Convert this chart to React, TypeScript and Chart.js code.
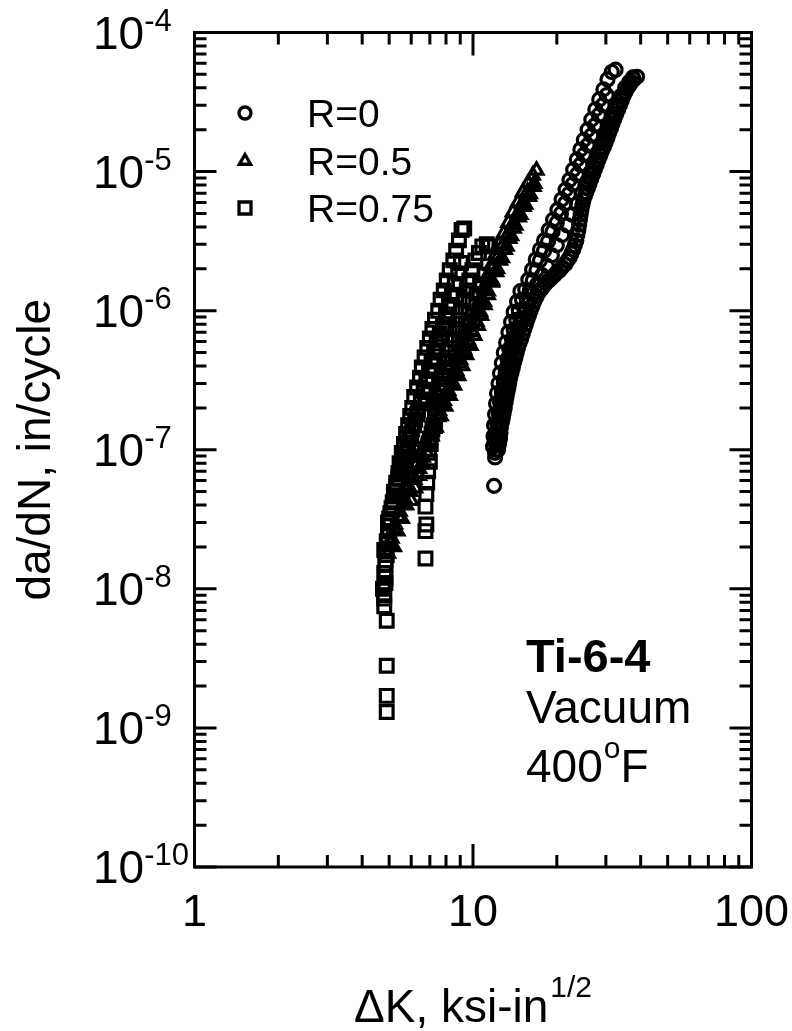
import React, { useEffect, useRef } from "react";
import { Chart, registerables } from "chart.js";

Chart.register(...registerables);

// ---------- data (ΔK in ksi-in^1/2, da/dN in in/cycle) ----------
// R = 0.75, test A
const R075A_DK = [4.9, 4.9, 4.9, 4.9, 4.8, 4.8, 4.85, 4.8, 4.85, 4.8, 4.9, 5.0, 4.95, 5.05, 5.15, 5.2, 5.3, 5.4, 5.45, 5.55, 5.65, 5.75, 5.85, 5.95, 6.05, 6.15, 6.3, 6.45, 6.55, 6.7, 6.85, 7.0, 7.15, 7.3, 7.5, 7.65, 7.85, 8.05, 8.25, 8.5, 8.7, 8.9, 9.1, 9.3];
const R075A_RATE = [1.3e-9, 1.7e-9, 2.8e-9, 5.9e-9, 7.5e-9, 9e-9, 1.1e-8, 1.3e-8, 1.6e-8, 1.9e-8, 2.2e-8, 2.6e-8, 3.0e-8, 3.5e-8, 4.2e-8, 5e-8, 5.8e-8, 6.8e-8, 8e-8, 9.5e-8, 1.1e-7, 1.3e-7, 1.5e-7, 1.75e-7, 2.0e-7, 2.4e-7, 2.8e-7, 3.3e-7, 3.9e-7, 4.6e-7, 5.4e-7, 6.3e-7, 7.4e-7, 8.6e-7, 1.0e-6, 1.2e-6, 1.4e-6, 1.65e-6, 1.95e-6, 2.3e-6, 2.7e-6, 3.2e-6, 3.8e-6, 3.9e-6];
// R = 0.75, test A (second pass)
const R075C_DK = [4.75, 4.85, 4.95, 5.05, 5.15, 5.25, 5.4, 5.55, 5.7, 5.85, 6.0, 6.15, 6.3, 6.5, 6.7, 6.9, 7.1, 7.3, 7.5, 7.75, 8.0, 8.2, 8.45, 8.7, 8.95];
const R075C_RATE = [1.0e-8, 1.5e-8, 2.1e-8, 3.1e-8, 3.9e-8, 4.7e-8, 6.2e-8, 7.5e-8, 9e-8, 1.05e-7, 1.25e-7, 1.5e-7, 1.8e-7, 2.15e-7, 2.6e-7, 3.1e-7, 3.7e-7, 4.4e-7, 5.2e-7, 6.2e-7, 7.4e-7, 8.9e-7, 1.06e-6, 1.28e-6, 1.55e-6];
// R = 0.75, test A (third pass)
const R075E_DK = [4.8, 4.85, 4.9, 4.95, 5.0, 5.1, 5.2, 5.3, 5.4, 5.5, 5.65, 5.8, 5.9, 6.05, 6.2, 6.35, 6.5, 6.65, 6.8, 6.95, 7.1, 7.25, 7.4, 7.6, 7.8, 8.0, 8.2, 8.4, 8.6, 8.85, 9.05];
const R075E_RATE = [8.5e-9, 1.2e-8, 1.75e-8, 2.4e-8, 3.2e-8, 3.8e-8, 4.6e-8, 5.4e-8, 6.3e-8, 7.4e-8, 8.8e-8, 1.02e-7, 1.2e-7, 1.4e-7, 1.65e-7, 1.95e-7, 2.3e-7, 2.7e-7, 3.2e-7, 3.7e-7, 4.3e-7, 5.0e-7, 5.8e-7, 6.8e-7, 8.0e-7, 9.4e-7, 1.1e-6, 1.3e-6, 1.55e-6, 1.85e-6, 2.2e-6];
// R = 0.75, test B
const R075B_DK = [6.75, 6.75, 6.8, 6.75, 6.8, 6.85, 6.9, 7.0, 6.95, 7.05, 7.1, 7.2, 7.3, 7.4, 7.55, 7.7, 7.85, 8.0, 8.15, 8.3, 8.5, 8.7, 8.85, 9.05, 9.25, 9.5, 9.7, 9.95, 10.2, 10.5, 10.8, 11.2, 11.5];
const R075B_RATE = [1.65e-8, 2.6e-8, 2.9e-8, 3.9e-8, 4.8e-8, 5.8e-8, 7e-8, 8.2e-8, 9.5e-8, 1.1e-7, 1.3e-7, 1.5e-7, 1.75e-7, 2.0e-7, 2.4e-7, 2.8e-7, 3.3e-7, 3.9e-7, 4.6e-7, 5.4e-7, 6.3e-7, 7.4e-7, 8.6e-7, 1.0e-6, 1.2e-6, 1.4e-6, 1.65e-6, 1.95e-6, 2.3e-6, 2.6e-6, 2.9e-6, 3.0e-6, 2.9e-6];
// R = 0.75, test B (second pass)
const R075D_DK = [7.0, 7.15, 7.3, 7.45, 7.6, 7.8, 8.0, 8.2, 8.4, 8.65, 8.9, 9.15, 9.4, 9.65, 9.95, 10.3, 10.6, 11.0];
const R075D_RATE = [1.2e-7, 1.4e-7, 1.6e-7, 1.85e-7, 2.2e-7, 2.6e-7, 3.0e-7, 3.6e-7, 4.2e-7, 5.0e-7, 5.9e-7, 6.9e-7, 8.1e-7, 9.5e-7, 1.12e-6, 1.32e-6, 1.55e-6, 1.8e-6];
// R = 0.5
const R05_DK = [4.95, 5.1, 5.25, 5.45, 5.65, 5.85, 6.05, 6.3, 6.5, 6.75, 7.0, 7.25, 7.55, 7.85, 8.15, 8.4, 8.7, 9.0, 9.3, 9.6, 9.9, 10.1, 10.3, 10.6, 10.9, 11.2, 11.6, 12.0, 12.4, 12.9, 13.4, 13.9, 14.5, 15.1, 15.8, 16.4, 16.9];
const R05_RATE = [1.8e-8, 2.3e-8, 2.9e-8, 3.6e-8, 4.5e-8, 5.5e-8, 6.7e-8, 8e-8, 9.5e-8, 1.15e-7, 1.35e-7, 1.6e-7, 1.9e-7, 2.25e-7, 2.65e-7, 3.1e-7, 3.7e-7, 4.4e-7, 5.2e-7, 6.1e-7, 7.2e-7, 8.5e-7, 1.0e-6, 1.2e-6, 1.45e-6, 1.75e-6, 2.1e-6, 2.5e-6, 3.0e-6, 3.6e-6, 4.3e-6, 5.1e-6, 6.0e-6, 7.1e-6, 8.3e-6, 9.4e-6, 1.02e-5];
// R = 0.5 (second pass)
const R05B_DK = [5.2, 5.35, 5.55, 5.75, 5.95, 6.15, 6.4, 6.6, 6.85, 7.1, 7.35, 7.65, 7.95, 8.25, 8.55, 8.85, 9.15, 9.45, 9.8, 10.1, 10.4, 10.7, 11.0, 11.3, 11.7, 12.1, 12.5, 13.0, 13.5, 14.0, 14.6, 15.2, 15.9, 16.5];
const R05B_RATE = [2.0e-8, 2.6e-8, 3.2e-8, 4.0e-8, 5.0e-8, 6.1e-8, 7.3e-8, 8.8e-8, 1.05e-7, 1.25e-7, 1.45e-7, 1.75e-7, 2.05e-7, 2.45e-7, 2.9e-7, 3.4e-7, 4.0e-7, 4.8e-7, 5.6e-7, 6.6e-7, 7.8e-7, 9.2e-7, 1.1e-6, 1.3e-6, 1.6e-6, 1.9e-6, 2.3e-6, 2.75e-6, 3.3e-6, 3.9e-6, 4.7e-6, 5.6e-6, 6.6e-6, 7.8e-6];
// R = 0.5 (third pass)
const R05C_DK = [5.05, 5.2, 5.4, 5.6, 5.8, 6.0, 6.2, 6.45, 6.7, 6.95, 7.2, 7.5, 7.8, 8.1, 8.4, 8.7, 9.0, 9.3, 9.6, 9.95, 10.3, 10.6, 10.95, 11.3, 11.7, 12.2, 12.7, 13.2, 13.7, 14.2, 14.8, 15.4, 16.0, 16.6];
const R05C_RATE = [2.1e-8, 2.7e-8, 3.3e-8, 4.1e-8, 5.1e-8, 6.2e-8, 7.6e-8, 9.0e-8, 1.08e-7, 1.3e-7, 1.52e-7, 1.8e-7, 2.15e-7, 2.55e-7, 3.0e-7, 3.55e-7, 4.2e-7, 5.0e-7, 5.9e-7, 7.0e-7, 8.3e-7, 9.8e-7, 1.16e-6, 1.38e-6, 1.65e-6, 2.0e-6, 2.4e-6, 2.9e-6, 3.45e-6, 4.1e-6, 4.9e-6, 5.8e-6, 6.9e-6, 8.2e-6];
// R = 0.5 (fourth pass)
const R05D_DK = [6.0, 6.2, 6.4, 6.6, 6.8, 7.0, 7.25, 7.5, 7.75, 8.0, 8.3, 8.6, 8.9, 9.2, 9.55, 9.9, 10.25, 10.6, 11.0, 11.4, 11.8, 12.3, 12.8, 13.3, 13.9, 14.5, 15.1, 15.7];
const R05D_RATE = [4.3e-8, 5.3e-8, 6.5e-8, 7.9e-8, 9.6e-8, 1.17e-7, 1.42e-7, 1.72e-7, 2.1e-7, 2.55e-7, 3.1e-7, 3.75e-7, 4.5e-7, 5.45e-7, 6.6e-7, 8.0e-7, 9.7e-7, 1.17e-6, 1.42e-6, 1.72e-6, 2.05e-6, 2.45e-6, 2.95e-6, 3.5e-6, 4.2e-6, 5.0e-6, 6.0e-6, 7.2e-6];
// R = 0, test A
const R0A_DK = [11.9, 12.0, 12.1, 11.95, 12.2, 12.3, 12.4, 12.5, 12.6, 12.8, 12.9, 13.1, 13.3, 13.5, 13.8, 14.0, 14.3, 14.6, 15.0, 15.4, 15.8, 16.3, 16.8, 17.4, 18.0, 18.7, 19.4, 20.1, 20.8, 21.5, 22.2, 22.9, 23.6, 24.3, 25.0, 25.8, 26.6, 27.5, 28.4, 29.4, 30.4, 31.5, 32.5];
const R0A_RATE = [5.5e-8, 8.8e-8, 1.0e-7, 1.15e-7, 1.3e-7, 1.45e-7, 1.65e-7, 1.95e-7, 2.3e-7, 2.7e-7, 3.2e-7, 3.8e-7, 4.5e-7, 5.3e-7, 6.2e-7, 7.3e-7, 8.6e-7, 1.0e-6, 1.2e-6, 1.42e-6, 1.67e-6, 1.97e-6, 2.33e-6, 2.75e-6, 3.2e-6, 3.8e-6, 4.5e-6, 5.3e-6, 6.3e-6, 7.4e-6, 8.7e-6, 1.03e-5, 1.22e-5, 1.44e-5, 1.69e-5, 2.0e-5, 2.36e-5, 2.8e-5, 3.3e-5, 3.9e-5, 4.6e-5, 5.2e-5, 5.4e-5];
// R = 0, test A (second pass)
const R0C_DK = [12.1, 12.2, 12.35, 12.5, 12.7, 12.9, 13.1, 13.4, 13.7, 14.0, 14.4, 14.8, 15.3, 15.8, 16.4, 17.0, 17.7, 18.4, 19.2, 20.0, 20.9, 21.8, 22.7, 23.6, 24.6, 25.6, 26.6, 27.7, 28.8, 29.9, 31.0];
const R0C_RATE = [1.3e-7, 1.55e-7, 1.85e-7, 2.2e-7, 2.6e-7, 3.05e-7, 3.6e-7, 4.2e-7, 5.0e-7, 5.9e-7, 7.0e-7, 8.2e-7, 9.6e-7, 1.12e-6, 1.32e-6, 1.55e-6, 1.8e-6, 2.1e-6, 2.5e-6, 2.95e-6, 3.5e-6, 4.1e-6, 4.9e-6, 5.8e-6, 6.9e-6, 8.2e-6, 9.8e-6, 1.17e-5, 1.4e-5, 1.68e-5, 2.0e-5];
// R = 0, test A (third pass)
const R0E_DK = [12.0, 12.15, 12.3, 12.45, 12.6, 12.75, 12.95, 13.1, 13.3, 13.55, 13.8, 14.05, 14.35, 14.65, 15.0, 15.3, 15.6, 16.0, 16.4, 16.9, 17.4, 18.0, 18.6, 19.3, 20.0, 20.7, 21.4, 22.1, 22.8, 23.6, 24.3, 25.0, 25.8, 26.6, 27.4, 28.3, 29.2, 30.2];
const R0E_RATE = [9.5e-8, 1.1e-7, 1.28e-7, 1.5e-7, 1.75e-7, 2.05e-7, 2.4e-7, 2.85e-7, 3.35e-7, 3.95e-7, 4.6e-7, 5.4e-7, 6.4e-7, 7.5e-7, 8.8e-7, 1.03e-6, 1.2e-6, 1.4e-6, 1.65e-6, 1.95e-6, 2.3e-6, 2.7e-6, 3.15e-6, 3.7e-6, 4.3e-6, 5.0e-6, 5.9e-6, 6.9e-6, 8.1e-6, 9.5e-6, 1.12e-5, 1.32e-5, 1.55e-5, 1.82e-5, 2.15e-5, 2.55e-5, 3.0e-5, 3.55e-5];
// R = 0, test A (fourth pass, early growth)
const R0G_DK = [11.8, 11.85, 11.9, 12.0, 12.1, 12.2, 12.35, 12.5, 12.7, 12.9, 13.15, 13.4, 13.7, 14.0, 14.4, 14.8];
const R0G_RATE = [1.05e-7, 1.25e-7, 1.5e-7, 1.8e-7, 2.15e-7, 2.55e-7, 3.0e-7, 3.55e-7, 4.2e-7, 5.0e-7, 5.9e-7, 7.0e-7, 8.3e-7, 9.8e-7, 1.16e-6, 1.38e-6];
// R = 0, test B
const R0B_DK = [12.3, 12.5, 12.6, 12.8, 13.0, 13.2, 13.4, 13.6, 13.9, 14.2, 14.5, 14.9, 15.3, 15.7, 16.1, 16.6, 17.2, 17.9, 18.7, 19.6, 20.5, 21.4, 22.2, 22.9, 23.5, 23.9, 24.2, 24.5, 24.9, 25.5, 26.2, 27.0, 27.8, 28.6, 29.5, 30.4, 31.3, 32.2, 33.2, 34.2, 35.3, 36.5, 37.8, 38.8];
const R0B_RATE = [1.0e-7, 1.2e-7, 1.45e-7, 1.7e-7, 2.0e-7, 2.4e-7, 2.8e-7, 3.3e-7, 3.9e-7, 4.6e-7, 5.4e-7, 6.3e-7, 7.4e-7, 8.7e-7, 1.0e-6, 1.17e-6, 1.35e-6, 1.5e-6, 1.65e-6, 1.8e-6, 1.95e-6, 2.15e-6, 2.4e-6, 2.75e-6, 3.2e-6, 3.8e-6, 4.5e-6, 5.3e-6, 6.2e-6, 7.1e-6, 8.2e-6, 9.6e-6, 1.12e-5, 1.3e-5, 1.5e-5, 1.75e-5, 2.05e-5, 2.4e-5, 2.8e-5, 3.25e-5, 3.75e-5, 4.2e-5, 4.6e-5, 4.8e-5];
// R = 0, test B (second pass)
const R0D_DK = [25.8, 26.6, 27.4, 28.2, 29.1, 30.0, 31.0, 32.0, 33.0, 34.0, 35.2, 36.4, 37.5];
const R0D_RATE = [8.6e-6, 1.0e-5, 1.18e-5, 1.38e-5, 1.6e-5, 1.88e-5, 2.2e-5, 2.6e-5, 3.0e-5, 3.5e-5, 4.0e-5, 4.4e-5, 4.75e-5];
// R = 0, test B (third pass)
const R0F_DK = [12.4, 12.55, 12.7, 12.9, 13.1, 13.3, 13.5, 13.75, 14.05, 14.35, 14.7, 15.1, 15.5, 15.9, 16.35, 16.9, 17.55, 18.3, 19.15, 20.0, 20.9, 21.8, 22.55, 23.2, 23.7, 24.05, 24.35, 24.7, 25.2, 25.85, 26.6, 27.4, 28.2, 29.0, 29.9, 30.8, 31.7, 32.7, 33.7, 34.7, 35.9, 37.1];
const R0F_RATE = [1.1e-7, 1.32e-7, 1.58e-7, 1.85e-7, 2.2e-7, 2.6e-7, 3.05e-7, 3.6e-7, 4.25e-7, 5.0e-7, 5.85e-7, 6.85e-7, 8.0e-7, 9.3e-7, 1.08e-6, 1.26e-6, 1.42e-6, 1.58e-6, 1.72e-6, 1.88e-6, 2.05e-6, 2.28e-6, 2.58e-6, 2.95e-6, 3.5e-6, 4.15e-6, 4.9e-6, 5.75e-6, 6.65e-6, 7.6e-6, 8.9e-6, 1.04e-5, 1.21e-5, 1.4e-5, 1.62e-5, 1.9e-5, 2.22e-5, 2.6e-5, 3.0e-5, 3.5e-5, 4.0e-5, 4.4e-5];

// axes
const X_MIN = 1;
const X_MAX = 100;
const Y_MIN = 1e-10;
const Y_MAX = 1e-4;
const X_TICK_VALUES = [1, 10, 100];
const X_TICK_LABELS = ["1", "10", "100"];
const Y_TICK_VALUES = [1e-4, 1e-5, 1e-6, 1e-7, 1e-8, 1e-9, 1e-10];
const Y_TICK_EXPONENTS = ["-4", "-5", "-6", "-7", "-8", "-9", "-10"];
const X_DECADES = [0, 1];
const Y_DECADES = [-10, -9, -8, -7, -6, -5];

const LEGEND_LABELS = ["R=0", "R=0.5", "R=0.75"];
const NOTE_LINES = ["Ti-6-4", "Vacuum", "400"];

const FONT = '"Liberation Sans", Arial, Helvetica, sans-serif';

function pts(xs: number[], ys: number[]) {
  return xs.map((x, i) => ({ x, y: ys[i] }));
}

function drawMarker(ctx: CanvasRenderingContext2D, style: string, x: number, y: number) {
  ctx.save();
  ctx.lineWidth = 3.3;
  ctx.strokeStyle = "#000";
  ctx.beginPath();
  if (style === "circle") {
    ctx.arc(x, y, 6, 0, Math.PI * 2);
  } else if (style === "triangle") {
    const r = 6.5;
    ctx.moveTo(x, y - r);
    ctx.lineTo(x + r * Math.sin((2 * Math.PI) / 3), y - r * Math.cos((2 * Math.PI) / 3));
    ctx.lineTo(x + r * Math.sin((4 * Math.PI) / 3), y - r * Math.cos((4 * Math.PI) / 3));
    ctx.closePath();
  } else {
    ctx.rect(x - 6, y - 6, 12, 12);
  }
  ctx.stroke();
  ctx.restore();
}

const framePlugin = {
  id: "framePlugin",
  afterDraw(chart: any) {
    const { ctx, chartArea: a, scales } = chart;
    const xs = scales.x;
    const ys = scales.y;
    ctx.save();
    ctx.strokeStyle = "#000";
    ctx.fillStyle = "#000";
    ctx.lineWidth = 3;
    ctx.strokeRect(a.left, a.top, a.right - a.left, a.bottom - a.top);

    // ticks
    ctx.beginPath();
    for (const e of Y_DECADES) {
      for (let m = 1; m <= 9; m++) {
        const v = m * Math.pow(10, e);
        const py = ys.getPixelForValue(v);
        const len = m === 1 ? 22 : 12;
        ctx.moveTo(a.left, py);
        ctx.lineTo(a.left + len, py);
        ctx.moveTo(a.right, py);
        ctx.lineTo(a.right - len, py);
      }
    }
    for (const e of X_DECADES) {
      for (let m = 1; m <= 9; m++) {
        const v = m * Math.pow(10, e);
        const px = xs.getPixelForValue(v);
        const len = m === 1 ? 23 : 12;
        ctx.moveTo(px, a.bottom);
        ctx.lineTo(px, a.bottom - len);
        ctx.moveTo(px, a.top);
        ctx.lineTo(px, a.top + len);
      }
    }
    ctx.stroke();

    // y tick labels
    ctx.textAlign = "left";
    ctx.textBaseline = "alphabetic";
    Y_TICK_VALUES.forEach((v, i) => {
      const py = ys.getPixelForValue(v);
      ctx.font = `46px ${FONT}`;
      ctx.fillText("10", 93, py + 16);
      const w = ctx.measureText("10").width;
      ctx.font = `31px ${FONT}`;
      ctx.fillText(Y_TICK_EXPONENTS[i], 93 + w, py - 2);
    });

    // x tick labels
    ctx.textAlign = "center";
    ctx.font = `45px ${FONT}`;
    X_TICK_VALUES.forEach((v, i) => {
      const px = xs.getPixelForValue(v);
      ctx.fillText(X_TICK_LABELS[i], px, 926);
    });

    // x title
    const cx = (a.left + a.right) / 2;
    ctx.textAlign = "left";
    ctx.font = `46px ${FONT}`;
    const mainT = "\u0394K, ksi-in";
    const wMain = ctx.measureText(mainT).width;
    ctx.font = `30px ${FONT}`;
    const supT = "1/2";
    const wSup = ctx.measureText(supT).width;
    const x0 = cx - (wMain + wSup + 2) / 2;
    ctx.font = `46px ${FONT}`;
    ctx.fillText(mainT, x0, 1022);
    ctx.font = `30px ${FONT}`;
    ctx.fillText(supT, x0 + wMain + 2, 997);

    // y title
    ctx.save();
    ctx.translate(50, (a.top + a.bottom) / 2);
    ctx.rotate(-Math.PI / 2);
    ctx.textAlign = "center";
    ctx.font = `46px ${FONT}`;
    ctx.fillText("da/dN, in/cycle", 0, 0);
    ctx.restore();

    // legend
    const legendStyles = ["circle", "triangle", "rect"];
    const legendY = [113, 161, 208];
    legendStyles.forEach((s, i) => drawMarker(ctx, s, 245, legendY[i]));
    ctx.fillStyle = "#000";
    ctx.textAlign = "left";
    ctx.font = `39px ${FONT}`;
    LEGEND_LABELS.forEach((t, i) => ctx.fillText(t, 307, legendY[i] + 14));

    // annotation
    ctx.font = `bold 47px ${FONT}`;
    ctx.fillText(NOTE_LINES[0], 526, 672);
    ctx.font = `46px ${FONT}`;
    ctx.fillText(NOTE_LINES[1], 526, 723);
    ctx.fillText(NOTE_LINES[2], 526, 782);
    const w400 = ctx.measureText(NOTE_LINES[2]).width;
    ctx.font = `30px ${FONT}`;
    ctx.fillText("o", 526 + w400 + 1, 758);
    const wo = ctx.measureText("o").width;
    ctx.font = `46px ${FONT}`;
    ctx.fillText("F", 526 + w400 + wo + 1, 782);

    ctx.restore();
  },
};

export default function App() {
  const canvasRef = useRef<HTMLCanvasElement | null>(null);

  useEffect(() => {
    const canvas = canvasRef.current;
    if (!canvas) return;
    const common = {
      showLine: false,
      borderColor: "#000",
      backgroundColor: "rgba(0,0,0,0)",
      pointBorderColor: "#000",
      pointBackgroundColor: "rgba(0,0,0,0)",
      pointBorderWidth: 3.2,
    };
    const circ = { ...common, pointStyle: "circle", pointRadius: 6.5 };
    const tri = { ...common, pointStyle: "triangle", pointRadius: 7.5 };
    const sq = { ...common, pointStyle: "rect", pointRadius: 9 };
    const chart = new Chart(canvas, {
      type: "scatter",
      data: {
        datasets: [
          { ...circ, label: "R=0 A", data: pts(R0A_DK, R0A_RATE) },
          { ...circ, label: "R=0 A2", data: pts(R0C_DK, R0C_RATE) },
          { ...circ, label: "R=0 A3", data: pts(R0E_DK, R0E_RATE) },
          { ...circ, label: "R=0 A4", data: pts(R0G_DK, R0G_RATE) },
          { ...circ, label: "R=0 B", data: pts(R0B_DK, R0B_RATE) },
          { ...circ, label: "R=0 B2", data: pts(R0D_DK, R0D_RATE) },
          { ...circ, label: "R=0 B3", data: pts(R0F_DK, R0F_RATE) },
          { ...tri, label: "R=0.5", data: pts(R05_DK, R05_RATE) },
          { ...tri, label: "R=0.5 2", data: pts(R05B_DK, R05B_RATE) },
          { ...tri, label: "R=0.5 3", data: pts(R05C_DK, R05C_RATE) },
          { ...tri, label: "R=0.5 4", data: pts(R05D_DK, R05D_RATE) },
          { ...sq, label: "R=0.75 A", data: pts(R075A_DK, R075A_RATE) },
          { ...sq, label: "R=0.75 A2", data: pts(R075C_DK, R075C_RATE) },
          { ...sq, label: "R=0.75 A3", data: pts(R075E_DK, R075E_RATE) },
          { ...sq, label: "R=0.75 B", data: pts(R075B_DK, R075B_RATE) },
          { ...sq, label: "R=0.75 B2", data: pts(R075D_DK, R075D_RATE) },
        ],
      },
      options: {
        responsive: false,
        animation: false,
        devicePixelRatio: 1,
        layout: { padding: { left: 194.5, right: 40.5, top: 32.5, bottom: 164 } },
        scales: {
          x: { type: "logarithmic", min: X_MIN, max: X_MAX, display: false },
          y: { type: "logarithmic", min: Y_MIN, max: Y_MAX, display: false },
        },
        plugins: {
          legend: { display: false },
          tooltip: { enabled: false },
        },
      },
      plugins: [framePlugin],
    } as any);
    return () => chart.destroy();
  }, []);

  return (
    <div style={{ position: "absolute", left: 0, top: 0, width: 792, height: 1031, background: "#fff" }}>
      <canvas ref={canvasRef} width={792} height={1031} style={{ display: "block" }} />
    </div>
  );
}
